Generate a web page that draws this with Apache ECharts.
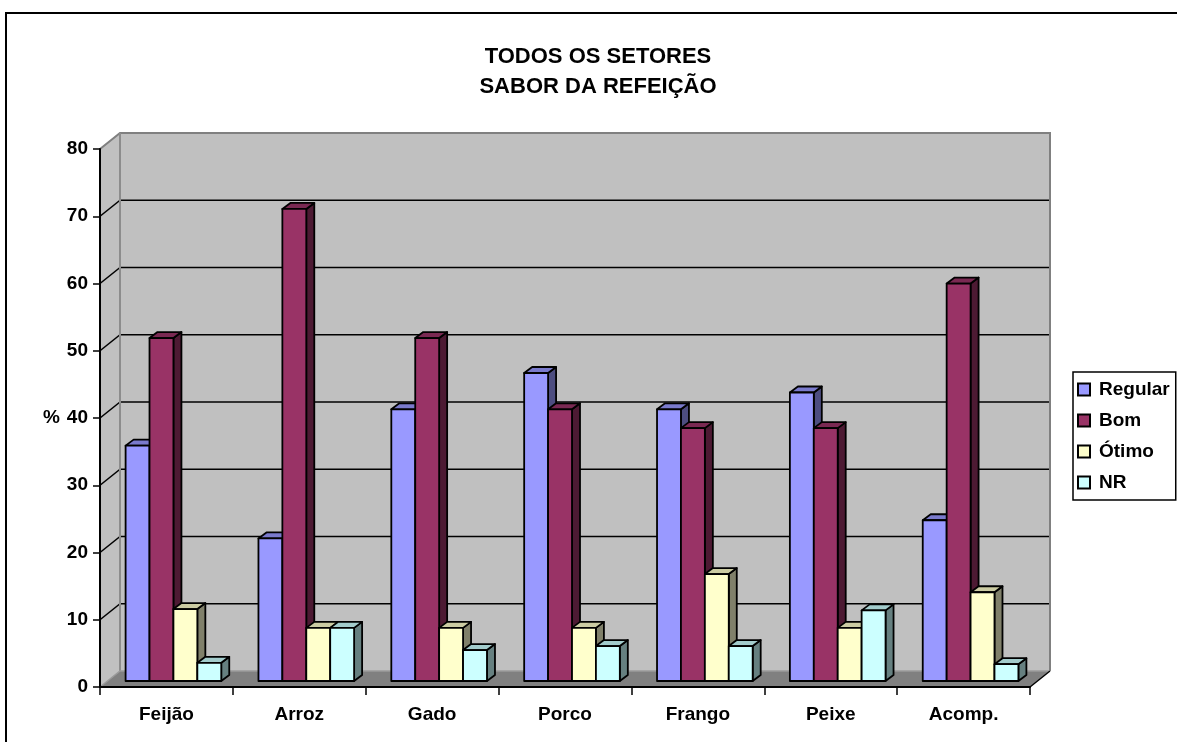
<!DOCTYPE html>
<html>
<head>
<meta charset="utf-8">
<script src="https://cdn.jsdelivr.net/npm/echarts@6/dist/echarts.min.js"></script>
<style>
  html, body { margin: 0; padding: 0; background: #fff; }
  #chart { width: 1177px; height: 742px; }
</style>
</head>
<body>
<div id="chart"></div>
<script>
// Categories and percentages per rating
const categories = ['Feijão', 'Arroz', 'Gado', 'Porco', 'Frango', 'Peixe', 'Acomp.'];
const regular = [35.0, 21.2, 40.4, 45.8, 40.4, 42.9, 23.9];
const bom     = [51.0, 70.2, 51.0, 40.4, 37.6, 37.6, 59.1];
const otimo   = [10.7, 7.9, 7.9, 7.9, 15.9, 7.9, 13.2];
const nr      = [2.7, 7.9, 4.6, 5.2, 5.2, 10.5, 2.5];
const seriesNames = ['Regular', 'Bom', 'Ótimo', 'NR'];
const yTicks = [0, 10, 20, 30, 40, 50, 60, 70, 80];
const titleLines = ['TODOS OS SETORES', 'SABOR DA REFEIÇÃO'];

const FONT = '"Liberation Sans", Arial, sans-serif';

// 3D look: wall depth, plane of the bar fronts, and bar cap depth (pixels)
const WALL = { dx: 20, dy: -16 };
const PLANE = { dx: 7, dy: -6 };
const CAP = { dx: 8, dy: -6 };

// front / top / side shades for each series
const shades = [
  { front: '#9999ff', top: '#7a7acc', side: '#4d4d80' },
  { front: '#993366', top: '#7a2952', side: '#4d1a33' },
  { front: '#ffffcc', top: '#cccca3', side: '#80806a' },
  { front: '#ccffff', top: '#a3cccc', side: '#668080' }
];

function wallsRenderer(params, api) {
  const cs = params.coordSys;
  const x0 = cs.x, y0 = cs.y, w = cs.width, h = cs.height;
  const bx = x0 + WALL.dx, by = y0 + WALL.dy;
  const children = [];
  // back wall
  children.push({ type: 'rect', shape: { x: bx, y: by, width: w, height: h },
    style: { fill: '#c0c0c0', stroke: null } });
  // left side wall
  children.push({ type: 'polygon', shape: { points: [[x0, y0], [bx, by], [bx, by + h], [x0, y0 + h]] },
    style: { fill: '#c0c0c0', stroke: null } });
  // floor
  children.push({ type: 'polygon', shape: { points: [[x0, y0 + h], [bx, by + h], [bx + w, by + h], [x0 + w, y0 + h]] },
    style: { fill: '#808080', stroke: null } });
  // grid lines on back wall and side wall
  yTicks.forEach(function (v) {
    if (v === 0 || v === yTicks[yTicks.length - 1]) return;
    const y = api.coord([0, v])[1];
    children.push({ type: 'line', shape: { x1: bx, y1: y + WALL.dy, x2: bx + w, y2: y + WALL.dy },
      style: { stroke: '#000', lineWidth: 1.6 } });
    children.push({ type: 'line', shape: { x1: x0, y1: y, x2: bx, y2: y + WALL.dy },
      style: { stroke: '#000', lineWidth: 1.6 } });
  });
  // wall edges
  children.push({ type: 'polyline', shape: { points: [[x0, y0], [bx, by], [bx + w, by], [bx + w, by + h]] },
    style: { stroke: '#808080', lineWidth: 2, fill: null } });
  children.push({ type: 'line', shape: { x1: bx, y1: by, x2: bx, y2: by + h },
    style: { stroke: '#8c8c8c', lineWidth: 2 } });
  children.push({ type: 'polyline', shape: { points: [[x0, y0 + h], [bx, by + h], [bx + w, by + h]] },
    style: { stroke: '#9a9a9a', lineWidth: 1.5, fill: null } });
  children.push({ type: 'line', shape: { x1: x0 + w, y1: y0 + h, x2: bx + w, y2: by + h },
    style: { stroke: '#000', lineWidth: 1.5 } });
  return { type: 'group', children: children };
}

function barRenderer(k) {
  const c = shades[k];
  return function (params, api) {
    const cat = api.value(0), v = api.value(1);
    const top = api.coord([cat, v]);
    const base = api.coord([cat, 0]);
    const band = api.size([1, 0])[0];
    const bw = band * 0.18;
    const cx = top[0] + PLANE.dx;
    const xl = cx - 2 * bw + k * bw, xr = xl + bw;
    const yt = top[1] + PLANE.dy, yb = base[1] + PLANE.dy;
    const edge = { stroke: '#000', lineWidth: 1.8, lineJoin: 'round' };
    return {
      type: 'group',
      children: [
        { type: 'polygon', shape: { points: [[xr, yt], [xr + CAP.dx, yt + CAP.dy], [xr + CAP.dx, yb + CAP.dy], [xr, yb]] },
          style: Object.assign({ fill: c.side }, edge) },
        { type: 'polygon', shape: { points: [[xl, yt], [xl + CAP.dx, yt + CAP.dy], [xr + CAP.dx, yt + CAP.dy], [xr, yt]] },
          style: Object.assign({ fill: c.top }, edge) },
        { type: 'rect', shape: { x: xl, y: yt, width: bw, height: yb - yt },
          style: Object.assign({ fill: c.front }, edge) }
      ]
    };
  };
}

const values = [regular, bom, otimo, nr];
const barSeries = values.map(function (arr, k) {
  return {
    name: seriesNames[k],
    type: 'custom',
    renderItem: barRenderer(k),
    clip: false,
    z: 3,
    itemStyle: { color: shades[k].front, borderColor: '#000', borderWidth: 1 },
    data: arr.map(function (v, i) { return [i, v]; })
  };
});

const chart = echarts.init(document.getElementById('chart'), null, { renderer: 'canvas' });
chart.setOption({
  animation: false,
  backgroundColor: '#fff',
  graphic: [
    { type: 'rect', shape: { x: 6, y: 13, width: 1300, height: 900 },
      style: { fill: null, stroke: '#000', lineWidth: 2 }, z: 0 },
    { type: 'text', x: 598, y: 42,
      style: { text: titleLines.join('\n'), fill: '#000', font: 'bold 22px ' + FONT,
        align: 'center', verticalAlign: 'top', lineHeight: 30 } }
  ],
  legend: {
    orient: 'vertical',
    left: 1073, top: 372,
    padding: [8, 6, 8, 4],
    borderColor: '#000', borderWidth: 1.5,
    itemWidth: 12, itemHeight: 12, itemGap: 12,
    icon: 'rect',
    data: seriesNames,
    textStyle: { fontFamily: FONT, fontWeight: 'bold', fontSize: 19, color: '#000', lineHeight: 19, padding: [0, 0, 0, 4] }
  },
  grid: { left: 100, top: 149, width: 930, height: 538, containLabel: false },
  xAxis: {
    type: 'category',
    data: categories,
    boundaryGap: true,
    axisLine: { show: true, lineStyle: { color: '#000', width: 2 } },
    axisTick: { show: true, length: 8, lineStyle: { color: '#000', width: 1.5 } },
    axisLabel: { color: '#000', fontFamily: FONT, fontWeight: 'bold', fontSize: 19, margin: 18 },
    splitLine: { show: false },
    z: 5
  },
  yAxis: {
    type: 'value',
    min: 0, max: 80, interval: 10,
    name: '%',
    nameLocation: 'middle',
    nameRotate: 0,
    nameGap: 40,
    nameTextStyle: { color: '#000', fontFamily: FONT, fontWeight: 'bold', fontSize: 19, align: 'right', verticalAlign: 'middle' },
    axisLine: { show: true, lineStyle: { color: '#000', width: 2 } },
    axisTick: { show: true, length: 7, lineStyle: { color: '#000', width: 1.5 } },
    axisLabel: { color: '#000', fontFamily: FONT, fontWeight: 'bold', fontSize: 19, margin: 12 },
    splitLine: { show: false },
    z: 5
  },
  series: [{
    name: 'walls',
    type: 'custom',
    renderItem: wallsRenderer,
    clip: false,
    silent: true,
    z: 1,
    data: [[0, 0]]
  }].concat(barSeries)
});
</script>
</body>
</html>
